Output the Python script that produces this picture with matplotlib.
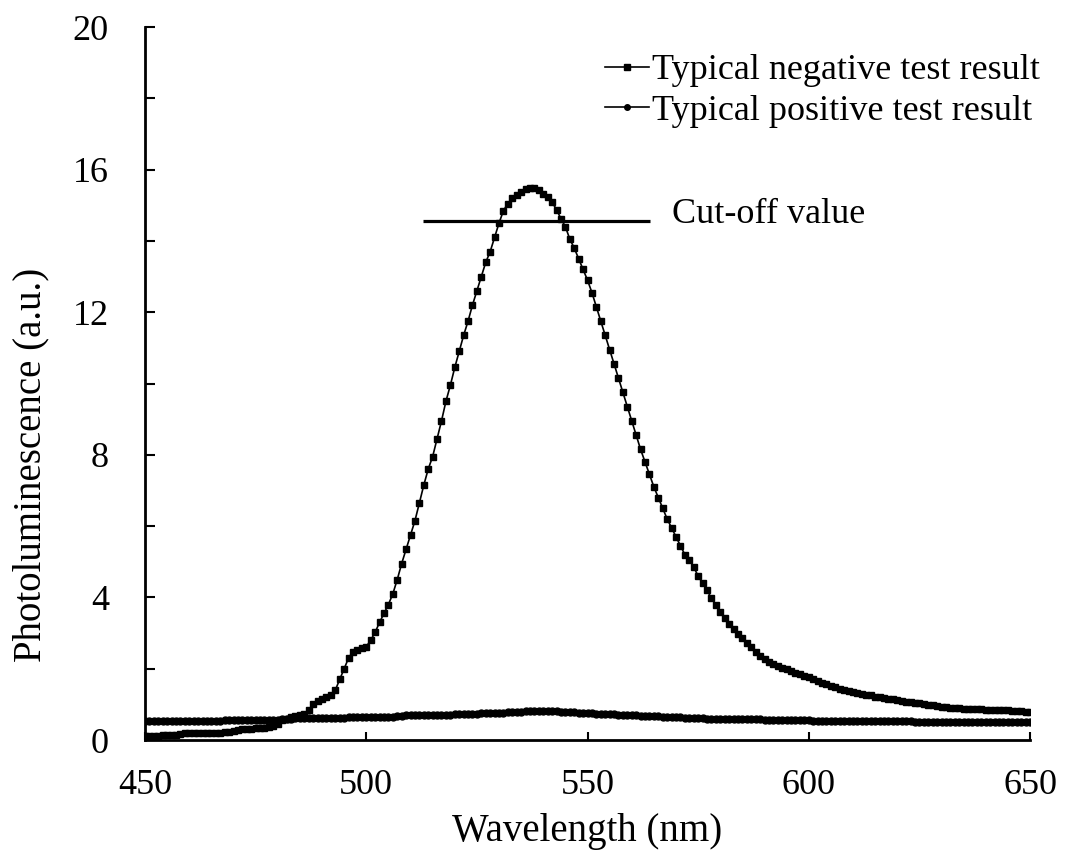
import numpy as np
import matplotlib
matplotlib.use('Agg')
import matplotlib.pyplot as plt
from matplotlib.ticker import MultipleLocator

# wavelength grid (nm), one reading per nm
wavelength = np.arange(450, 651)

# typical negative test result (square markers, the big peak)
negative = [
    0.12, 0.12, 0.12, 0.12, 0.13, 0.13, 0.13, 0.14,
    0.18, 0.19, 0.19, 0.19, 0.20, 0.20, 0.20, 0.20, 0.21, 0.21, 0.22, 0.23, 0.25,
    0.28, 0.30, 0.31, 0.32, 0.33, 0.34, 0.35, 0.37, 0.40,
    0.45, 0.55, 0.60, 0.65, 0.68, 0.70, 0.73, 0.85, 1.00, 1.10,
    1.15, 1.20, 1.25, 1.40, 1.70, 2.00, 2.30, 2.48, 2.53, 2.58,
    2.62, 2.80, 3.02, 3.30, 3.55, 3.80, 4.10, 4.50, 4.95, 5.35,
    5.75, 6.15, 6.65, 7.15, 7.60, 7.95, 8.45, 8.95, 9.50, 9.95,
    10.45, 10.90, 11.35, 11.75, 12.20, 12.60, 13.00, 13.40, 13.70, 14.10,
    14.50, 14.85, 15.05, 15.20, 15.30, 15.38, 15.45, 15.49, 15.48, 15.42,
    15.33, 15.22, 15.08, 14.88, 14.62, 14.40, 14.05, 13.80, 13.50, 13.20,
    12.90, 12.55, 12.15, 11.75, 11.35, 10.95, 10.55, 10.15, 9.75, 9.35,
    8.95, 8.55, 8.15, 7.80, 7.45, 7.10, 6.80, 6.50, 6.20, 5.95,
    5.70, 5.45, 5.20, 5.05, 4.85, 4.60, 4.40, 4.20, 3.98, 3.78,
    3.58, 3.42, 3.26, 3.11, 2.98, 2.85, 2.72, 2.60, 2.48, 2.37,
    2.28, 2.20, 2.13, 2.07, 2.02, 1.98, 1.93, 1.88, 1.84, 1.80,
    1.76, 1.71, 1.66, 1.61, 1.56, 1.52, 1.48, 1.44, 1.40, 1.37,
    1.34, 1.32, 1.30, 1.27, 1.25, 1.22, 1.20, 1.18, 1.16, 1.14,
    1.12, 1.10, 1.08, 1.06, 1.05, 1.03, 1.01, 0.99, 0.97, 0.95,
    0.93, 0.92, 0.91, 0.90, 0.89, 0.88, 0.87, 0.87, 0.86, 0.86,
    0.85, 0.85, 0.84, 0.84, 0.83, 0.83, 0.82, 0.81, 0.81, 0.80, 0.79,
]

# typical positive test result (circle markers, nearly flat)
positive = [
    0.54, 0.54, 0.54, 0.54, 0.54, 0.54, 0.54, 0.54, 0.54, 0.54,
    0.54, 0.54, 0.54, 0.54, 0.54, 0.54, 0.54, 0.54, 0.55, 0.55,
    0.55, 0.55, 0.55, 0.55, 0.55, 0.55, 0.56, 0.56, 0.56, 0.56, 0.57,
    0.60, 0.60, 0.60, 0.61, 0.61, 0.61, 0.61, 0.62, 0.62, 0.62,
    0.62, 0.63, 0.63, 0.63, 0.63, 0.64, 0.64, 0.64, 0.64, 0.65,
    0.65, 0.65, 0.65, 0.66, 0.66, 0.66,
    0.68, 0.68, 0.69, 0.69, 0.69, 0.70, 0.70, 0.70, 0.70, 0.71,
    0.71, 0.71, 0.71, 0.72, 0.72, 0.72, 0.72,
    0.74, 0.74, 0.75, 0.75, 0.76, 0.76, 0.77, 0.77, 0.78, 0.78,
    0.80, 0.80, 0.81, 0.81, 0.82, 0.82, 0.82, 0.82, 0.81, 0.81, 0.80, 0.80,
    0.78, 0.78, 0.77, 0.76, 0.76, 0.75, 0.74, 0.74, 0.73, 0.73, 0.72,
    0.70, 0.70, 0.69, 0.69, 0.69, 0.68, 0.68, 0.68, 0.67, 0.67,
    0.65, 0.65, 0.64, 0.64, 0.64, 0.63, 0.63, 0.63, 0.62, 0.62,
    0.60, 0.60, 0.60, 0.60, 0.59, 0.59, 0.59, 0.59, 0.58, 0.58,
    0.58, 0.58, 0.58, 0.57, 0.57, 0.57, 0.57, 0.57, 0.57, 0.56,
    0.56, 0.56, 0.56, 0.56,
    0.54, 0.54, 0.54, 0.54, 0.54, 0.54, 0.53, 0.53, 0.53, 0.53,
    0.53, 0.53, 0.53, 0.53, 0.52, 0.52, 0.52, 0.52, 0.52, 0.52,
    0.52, 0.52, 0.52, 0.51, 0.51, 0.51, 0.51, 0.51, 0.51, 0.51,
    0.51, 0.51, 0.51, 0.51, 0.51, 0.50, 0.50, 0.50, 0.50, 0.50,
    0.50, 0.50, 0.50, 0.50, 0.50, 0.50, 0.50, 0.50, 0.50, 0.50,
]

cutoff_value = 14.55
cutoff_range = (512.8, 564.2)

plt.rcParams['font.family'] = ['Liberation Serif', 'DejaVu Serif']

fig = plt.figure(figsize=(10.79, 8.61), dpi=100)
ax = fig.add_axes([0.1344, 0.1405, 0.8202, 0.8281])

ax.plot(wavelength, negative, color='black', lw=1.2, marker='s', ms=5,
        label='Typical negative test result')
ax.plot(wavelength, positive, color='black', lw=1.2, marker='o', ms=5,
        label='Typical positive test result')

ax.hlines(cutoff_value, *cutoff_range, color='black', lw=2.3)
ax.text(569, 14.75, 'Cut-off value', fontsize=26, va='center', ha='left')

ax.set_xlim(450, 650)
ax.set_ylim(0, 20)
ax.xaxis.set_major_locator(MultipleLocator(50))
ax.yaxis.set_major_locator(MultipleLocator(4))
ax.yaxis.set_minor_locator(MultipleLocator(2))

for s in ['top', 'right']:
    ax.spines[s].set_visible(False)
for s in ['left', 'bottom']:
    ax.spines[s].set_linewidth(2)

ax.tick_params(axis='both', which='both', direction='in', width=1.5,
               labelsize=26)
ax.tick_params(axis='y', which='both', length=7, pad=26)
ax.tick_params(axis='x', which='both', length=6, pad=21)

ax.set_xlabel('Wavelength (nm)', fontsize=28)
ax.xaxis.set_label_coords(0.5, -0.103)
ax.set_ylabel('Photoluminescence (a.u.)', fontsize=28)
ax.yaxis.set_label_coords(-0.108, 0.386)

leg = ax.legend(loc='upper left', bbox_to_anchor=(0.52, 0.962), frameon=False,
                fontsize=26, handlelength=1.2, handletextpad=0.1,
                labelspacing=0.2, borderpad=0, borderaxespad=0, markerscale=0.8)

fig.savefig('out.png', dpi=100)
